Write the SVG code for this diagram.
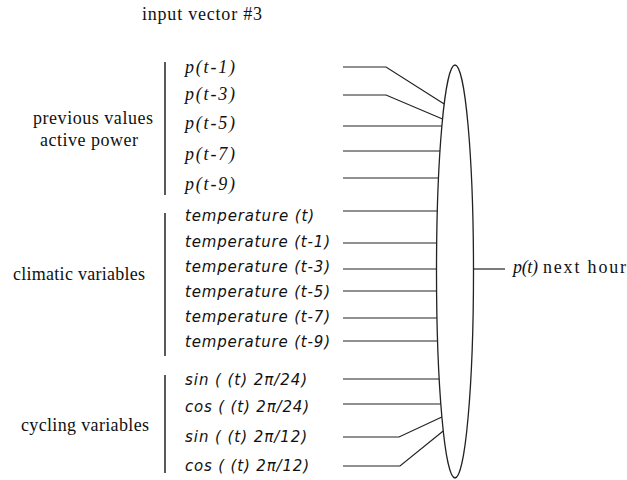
<svg xmlns="http://www.w3.org/2000/svg" width="627" height="480" viewBox="0 0 627 480">
<style>
.ser{font-family:"Liberation Serif","Times New Roman",serif;font-size:18px;fill:#111}
.si{font-family:"Liberation Serif","Times New Roman",serif;font-size:18px;font-style:italic;fill:#111}
.sa{font-family:"DejaVu Sans","Liberation Sans",sans-serif;font-size:15px;font-style:italic;fill:#111}
.ln{stroke:#222;stroke-width:1.2;fill:none}
.bar{stroke:#222;stroke-width:1.5;fill:none}
</style>
<rect width="627" height="480" fill="#fff"/>
<text class="ser" x="142" y="20" textLength="120" lengthAdjust="spacing">input vector #3</text>
<g id="group-previous">
<line class="bar" x1="165" y1="62" x2="165" y2="195"/>
<text class="ser" x="33" y="124" textLength="120" lengthAdjust="spacing">previous values</text>
<text class="ser" x="40" y="146" textLength="98" lengthAdjust="spacing">active power</text>
</g>
<g id="group-climatic">
<line class="bar" x1="165" y1="213" x2="165" y2="356"/>
<text class="ser" x="13" y="280" textLength="132" lengthAdjust="spacing">climatic variables</text>
</g>
<g id="group-cycling">
<line class="bar" x1="165" y1="375" x2="165" y2="473"/>
<text class="ser" x="21" y="431" textLength="128" lengthAdjust="spacing">cycling variables</text>
</g>
<g id="in-p1"><text class="si" x="185" y="73" textLength="50" lengthAdjust="spacing">p(t-1)</text></g>
<g id="in-p3"><text class="si" x="185" y="100" textLength="50" lengthAdjust="spacing">p(t-3)</text></g>
<g id="in-p5"><text class="si" x="185" y="129" textLength="50" lengthAdjust="spacing">p(t-5)</text></g>
<g id="in-p7"><text class="si" x="185" y="160" textLength="50" lengthAdjust="spacing">p(t-7)</text></g>
<g id="in-p9"><text class="si" x="185" y="190" textLength="50" lengthAdjust="spacing">p(t-9)</text></g>
<g id="in-t0"><text class="sa" x="185" y="221" textLength="129" lengthAdjust="spacing">temperature (t)</text></g>
<g id="in-t1"><text class="sa" x="185" y="247" textLength="145" lengthAdjust="spacing">temperature (t-1)</text></g>
<g id="in-t3"><text class="sa" x="185" y="272" textLength="145" lengthAdjust="spacing">temperature (t-3)</text></g>
<g id="in-t5"><text class="sa" x="185" y="297" textLength="145" lengthAdjust="spacing">temperature (t-5)</text></g>
<g id="in-t7"><text class="sa" x="185" y="322" textLength="145" lengthAdjust="spacing">temperature (t-7)</text></g>
<g id="in-t9"><text class="sa" x="185" y="347" textLength="145" lengthAdjust="spacing">temperature (t-9)</text></g>
<g id="in-s24"><text class="sa" x="185" y="385" textLength="122" lengthAdjust="spacing">sin ( (t) 2π/24)</text></g>
<g id="in-c24"><text class="sa" x="185" y="412" textLength="124" lengthAdjust="spacing">cos ( (t) 2π/24)</text></g>
<g id="in-s12"><text class="sa" x="185" y="442" textLength="122" lengthAdjust="spacing">sin ( (t) 2π/12)</text></g>
<g id="in-c12"><text class="sa" x="185" y="471" textLength="124" lengthAdjust="spacing">cos ( (t) 2π/12)</text></g>
<g id="network">
<ellipse cx="455" cy="271.5" rx="18.5" ry="206.5" fill="#fff" stroke="#222" stroke-width="1.3"/>
</g>
<g id="output">
<text class="si" x="513" y="273" textLength="25" lengthAdjust="spacing">p(t)</text>
<text class="ser" x="543" y="273" textLength="83" lengthAdjust="spacing">next hour</text>
</g>
<g id="connectors">
<polyline class="ln" points="343,67 386,67 444.2,104"/>
<polyline class="ln" points="343,95 386,95 442.5,119"/>
<line class="ln" x1="343" y1="126" x2="441.9" y2="126"/>
<line class="ln" x1="343" y1="151" x2="440" y2="151"/>
<line class="ln" x1="343" y1="178" x2="438.5" y2="178"/>
<line class="ln" x1="343" y1="211" x2="437.3" y2="211"/>
<line class="ln" x1="343" y1="243" x2="436.7" y2="243"/>
<line class="ln" x1="343" y1="269" x2="436.5" y2="269"/>
<line class="ln" x1="343" y1="291" x2="436.6" y2="291"/>
<line class="ln" x1="343" y1="318" x2="437" y2="318"/>
<line class="ln" x1="343" y1="341" x2="437.6" y2="341"/>
<line class="ln" x1="343" y1="379" x2="439.2" y2="379"/>
<line class="ln" x1="343" y1="404" x2="440.8" y2="404"/>
<polyline class="ln" points="343,437 399,437 441.9,417"/>
<polyline class="ln" points="343,466 400,466 443.2,431"/>
<line class="ln" x1="473.5" y1="269" x2="505" y2="269"/>
</g>
</svg>
